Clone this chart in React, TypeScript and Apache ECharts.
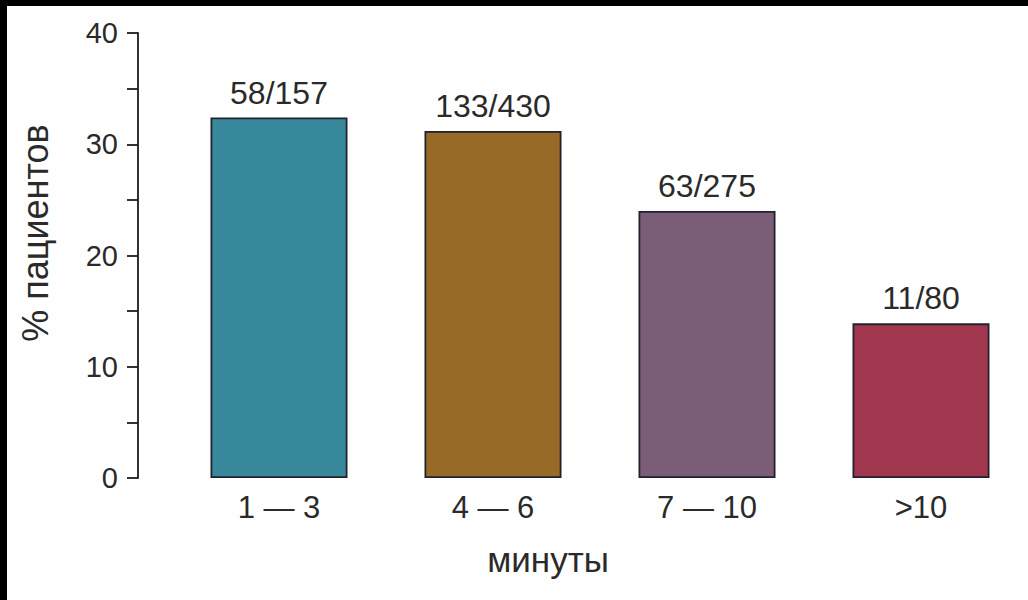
import React, { useEffect, useRef } from "react";
import * as echarts from "echarts";

const categories = ["1 — 3", "4 — 6", "7 — 10", ">10"];
const values = [32.4, 31.2, 24.0, 13.9];
const barLabels = ["58/157", "133/430", "63/275", "11/80"];
const barColors = ["#37889b", "#976a27", "#7b5d78", "#a0374f"];
const yTicks = [0, 10, 20, 30, 40];
const yTitle = "% пациентов";
const xTitle = "минуты";

const FONT = "'Liberation Sans', Arial, Helvetica, sans-serif";
const TEXT = "#2a2a2a";

export default function App() {
  const ref = useRef<HTMLDivElement>(null);
  useEffect(() => {
    if (!ref.current) return;
    const chart = echarts.init(ref.current, null, { renderer: "svg" });
    chart.setOption({
      animation: false,
      backgroundColor: "#ffffff",
      textStyle: { fontFamily: FONT },
      grid: { left: 165, right: 0, top: 27, bottom: 122, containLabel: false },
      xAxis: {
        type: "category",
        data: categories,
        axisLine: { show: false },
        axisTick: { show: false },
        axisLabel: { fontSize: 31, color: TEXT, margin: 14, fontFamily: FONT },
      },
      yAxis: {
        type: "value",
        min: yTicks[0],
        max: yTicks[yTicks.length - 1],
        interval: 10,
        offset: 34,
        axisLine: { show: true, lineStyle: { color: "#1c1c1c", width: 1.8 } },
        axisTick: { show: true, length: 11, lineStyle: { color: "#1c1c1c", width: 1.8 } },
        minorTick: { show: true, splitNumber: 2, length: 11, lineStyle: { color: "#1c1c1c", width: 1.8 } },
        splitLine: { show: false },
        axisLabel: { fontSize: 29, color: TEXT, margin: 20, fontFamily: FONT },
      },
      series: [
        {
          type: "bar",
          barWidth: 137,
          data: values.map((v, i) => ({
            value: v,
            itemStyle: { color: barColors[i], borderColor: "#22222e", borderWidth: 1.8 },
          })),
          label: {
            show: true,
            position: "top",
            distance: 9,
            fontSize: 32,
            color: TEXT,
            fontFamily: FONT,
            formatter: (p: any) => barLabels[p.dataIndex],
          },
        },
      ],
      graphic: [
        {
          type: "text",
          x: 28,
          y: 227,
          rotation: Math.PI / 2,
          style: {
            text: yTitle,
            fontSize: 36,
            fill: TEXT,
            fontFamily: FONT,
            align: "center",
            verticalAlign: "middle",
          },
        },
        {
          type: "text",
          x: 541,
          y: 553,
          style: {
            text: xTitle,
            fontSize: 35,
            fill: TEXT,
            fontFamily: FONT,
            align: "center",
            verticalAlign: "middle",
          },
        },
      ],
    });
    return () => chart.dispose();
  }, []);
  return (
    <div style={{ position: "fixed", left: 0, top: 0, width: 1028, height: 600, background: "#000" }}>
      <div ref={ref} style={{ position: "absolute", left: 7, top: 6, width: 1021, height: 594 }} />
    </div>
  );
}
